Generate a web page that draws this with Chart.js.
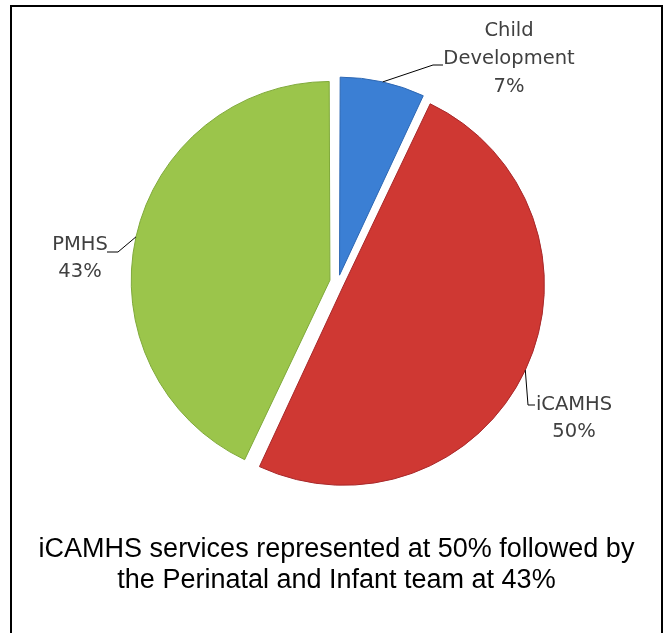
<!DOCTYPE html>
<html>
<head>
<meta charset="utf-8">
<script src="https://cdn.jsdelivr.net/npm/chart.js@4.4.0/dist/chart.umd.min.js"></script>
<style>
  html, body { margin: 0; padding: 0; background: #fff; width: 668px; height: 633px; overflow: hidden; }
  #frame { position: absolute; left: 10px; top: 5px; width: 653px; height: 700px; border: 2px solid #000; border-bottom: none; box-sizing: border-box; }
  #pie { position: absolute; left: 0; top: 0; }
  #caption { position: absolute; left: 10px; width: 653px; top: 533px; text-align: center;
             font-family: "Liberation Sans", Arial, sans-serif; font-size: 27px; line-height: 31px; color: #000; }
</style>
</head>
<body>
<div id="frame"></div>
<canvas id="pie" width="668" height="633"></canvas>
<div id="caption">iCAMHS services represented at 50% followed by<br>the Perinatal and Infant team at 43%</div>
<script>
// Service share of referrals
const categories = ['Child Development', 'iCAMHS', 'PMHS'];
const labelLines = [['Child', 'Development'], ['iCAMHS'], ['PMHS']];
const shares = [7, 50, 43];
const sliceColors = ['#3b7fd4', '#cf3833', '#9bc54b'];
const rimColors = ['#2d67b3', '#a8282a', '#7fa93a'];

// Where each data label sits: elbow of the leader, end of the leader, text centre and line baselines
const labelLayout = [
  { elbow: [433, 65], end: [443, 65], cx: 509, baselines: [36, 64, 92] },
  { elbow: [528, 405], end: [535, 405], cx: 574, baselines: [410, 437] },
  { elbow: [118, 252], end: [107, 252], cx: 80, baselines: [250, 277] }
];

// Same displacement and radius growth Chart.js applies when drawing an exploded arc
function sliceGeometry(arc) {
  const p = arc.getProps(['startAngle', 'endAngle', 'circumference', 'x', 'y', 'outerRadius'], true);
  const o = (arc.options.offset || 0) / 4;
  const fix = 1 - Math.sin(Math.min(Math.PI, p.circumference || 0));
  const mid = (p.startAngle + p.endAngle) / 2;
  return {
    mid,
    r: p.outerRadius + o * fix,
    cx: p.x + Math.cos(mid) * o,
    cy: p.y + Math.sin(mid) * o
  };
}

const dataLabels = {
  id: 'dataLabels',
  afterDatasetsDraw(chart) {
    const ctx = chart.ctx;
    const arcs = chart.getDatasetMeta(0).data;
    ctx.save();
    arcs.forEach((arc, i) => {
      const g = sliceGeometry(arc);
      const ax = g.cx + Math.cos(g.mid) * g.r;
      const ay = g.cy + Math.sin(g.mid) * g.r;
      const L = labelLayout[i];
      ctx.strokeStyle = '#000';
      ctx.lineWidth = 1;
      ctx.beginPath();
      ctx.moveTo(ax, ay);
      ctx.lineTo(L.elbow[0], L.elbow[1]);
      ctx.lineTo(L.end[0], L.end[1]);
      ctx.stroke();
      ctx.fillStyle = '#404040';
      ctx.font = '19.5px "DejaVu Sans", sans-serif';
      ctx.textAlign = 'center';
      ctx.textBaseline = 'alphabetic';
      const lines = labelLines[i].concat([shares[i] + '%']);
      lines.forEach((t, k) => ctx.fillText(t, L.cx, L.baselines[k]));
    });
    ctx.restore();
  }
};

new Chart(document.getElementById('pie'), {
  type: 'pie',
  data: {
    labels: categories,
    datasets: [{
      data: shares,
      backgroundColor: sliceColors,
      borderColor: rimColors,
      borderWidth: 1,
      offset: [28, 26, 33]
    }]
  },
  options: {
    responsive: false,
    animation: false,
    events: [],
    radius: 194,
    layout: { padding: { left: 20, right: 12, top: 20, bottom: 89 } },
    plugins: { legend: { display: false }, tooltip: { enabled: false } }
  },
  plugins: [dataLabels]
});
</script>
</body>
</html>
